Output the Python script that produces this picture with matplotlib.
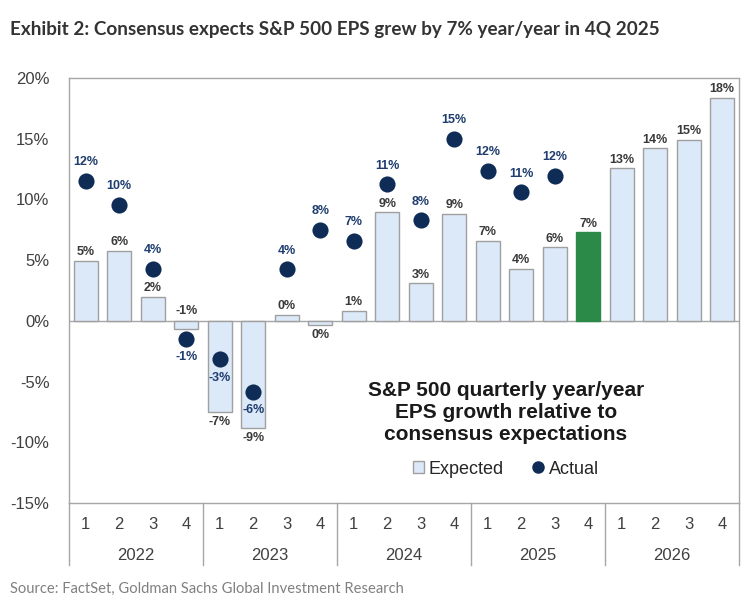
import matplotlib
matplotlib.use("Agg")
import matplotlib.pyplot as plt
from matplotlib.patches import Patch
from matplotlib.lines import Line2D
import numpy as np

years = ["2022", "2023", "2024", "2025", "2026"]
quarters = ["1", "2", "3", "4"]
expected = [4.95, 5.77, 1.98, -0.63, -7.47, -8.79, 0.47, -0.33, 0.82, 8.94,
            3.08, 8.8, 6.6, 4.26, 6.05, 7.29, 12.56, 14.21, 14.9, 18.36]
expected_labels = ["5%", "6%", "2%", "-1%", "-7%", "-9%", "0%", "0%", "1%", "9%",
                   "3%", "9%", "7%", "4%", "6%", "7%", "13%", "14%", "15%", "18%"]
actual = [11.54, 9.56, 4.31, -1.49, -3.16, -5.82, 4.26, 7.5, 6.6, 11.27,
          8.3, 14.98, 12.37, 10.59, 11.95, None, None, None, None, None]
actual_labels = ["12%", "10%", "4%", "-1%", "-3%", "-6%", "4%", "8%", "7%", "11%",
                 "8%", "15%", "12%", "11%", "12%", None, None, None, None, None]
highlight_index = 15

BAR_C = "#dbe9f8"
BAR_E = "#a0a0a0"
GREEN = "#2b8a48"
NAVY = "#0e2c56"
LBL_DOT = "#1f3d6e"
LBL_BAR = "#3a3a3a"
GRID = "#a6a6a6"

plt.rcParams['font.family'] = ['Liberation Sans', 'DejaVu Sans']

fig = plt.figure(figsize=(7.52, 6.14), dpi=100)
ax = fig.add_axes([69/752, 1-503/614, (739-69)/752, (503-78)/614])

n = len(expected)
x = np.arange(n)
colors = [GREEN if i == highlight_index else BAR_C for i in range(n)]
edges = [GREEN if i == highlight_index else BAR_E for i in range(n)]
ax.bar(x, expected, width=0.72, color=colors, edgecolor=edges, linewidth=1.0, zorder=2)

ax.axhline(0, color=GRID, lw=1.0, zorder=1)

ax_x = [i for i in range(n) if actual[i] is not None]
ax_y = [actual[i] for i in ax_x]
ax.scatter(ax_x, ax_y, s=135, color=NAVY, zorder=3, linewidths=0)

# bar labels
for i, v in enumerate(expected):
    txt = expected_labels[i]
    a = actual[i]
    if v >= 0:
        ax.annotate(txt, (i, v), xytext=(0, 2), textcoords="offset points",
                    ha="center", va="bottom", fontsize=9, fontweight="bold", color=LBL_BAR)
    elif a is not None and a < v:
        ax.annotate(txt, (i, 0), xytext=(0, 3), textcoords="offset points",
                    ha="center", va="bottom", fontsize=9, fontweight="bold", color=LBL_BAR)
    else:
        ax.annotate(txt, (i, v), xytext=(0, -3), textcoords="offset points",
                    ha="center", va="top", fontsize=9, fontweight="bold", color=LBL_BAR)

# dot labels
for i in ax_x:
    a = actual[i]
    txt = actual_labels[i]
    if a >= 0:
        ax.annotate(txt, (i, a), xytext=(0, 9), textcoords="offset points",
                    ha="center", va="bottom", fontsize=9, fontweight="bold", color=LBL_DOT)
    else:
        ax.annotate(txt, (i, a), xytext=(0, -9), textcoords="offset points",
                    ha="center", va="top", fontsize=9, fontweight="bold", color=LBL_DOT)

ax.set_xlim(-0.5, n - 0.5)
ax.set_ylim(-15, 20)
ax.set_yticks([-15, -10, -5, 0, 5, 10, 15, 20])
ax.set_yticklabels([f"{t}%" for t in [-15, -10, -5, 0, 5, 10, 15, 20]], fontsize=12, color="#404040")
ax.tick_params(axis="y", length=0, pad=14)
ax.set_xticks(x)
ax.set_xticklabels(quarters * len(years), fontsize=12, color="#404040")
ax.tick_params(axis="x", length=0, pad=10)

for s in ax.spines.values():
    s.set_color(GRID)
    s.set_linewidth(1.0)

trans = ax.get_xaxis_transform()
ext = -(565 - 503) / 425
for k in range(len(years) + 1):
    xs = k * 4 - 0.5
    ax.plot([xs, xs], [0, ext], transform=trans, color=GRID, lw=1.0, clip_on=False)
for k, y in enumerate(years):
    ax.text(k * 4 + 1.5, -(555 - 503) / 425, y, transform=trans, ha="center", va="center",
            fontsize=12, color="#404040")

# inner annotation
fig.text(506/752, 1-412/614, "S&P 500 quarterly year/year\nEPS growth relative to\nconsensus expectations",
         ha="center", va="center", fontsize=15, fontweight="bold", color="#1a1a1a", linespacing=1.2)

handles = [Patch(facecolor=BAR_C, edgecolor=BAR_E, linewidth=1.0),
           Line2D([], [], marker="o", color=NAVY, ls="none", markersize=8)]
fig.legend(handles, ["Expected", "Actual"], loc="center", bbox_to_anchor=(506/752, 1-469/614),
           ncol=2, frameon=False, fontsize=13, handlelength=0.6, handleheight=0.6,
           handletextpad=0.3, columnspacing=1.6, labelcolor="#262626")

fig.text(10/752, 1-30/614, "Exhibit 2: Consensus expects S&P 500 EPS grew by 7% year/year in 4Q 2025",
         ha="left", va="center", fontsize=13.6, fontweight="bold", color="#333333", family="Lato")
fig.text(10/752, 1-589/614, "Source: FactSet, Goldman Sachs Global Investment Research",
         ha="left", va="center", fontsize=10.6, color="#808080", family="Lato")

fig.savefig("out.png", dpi=100)
